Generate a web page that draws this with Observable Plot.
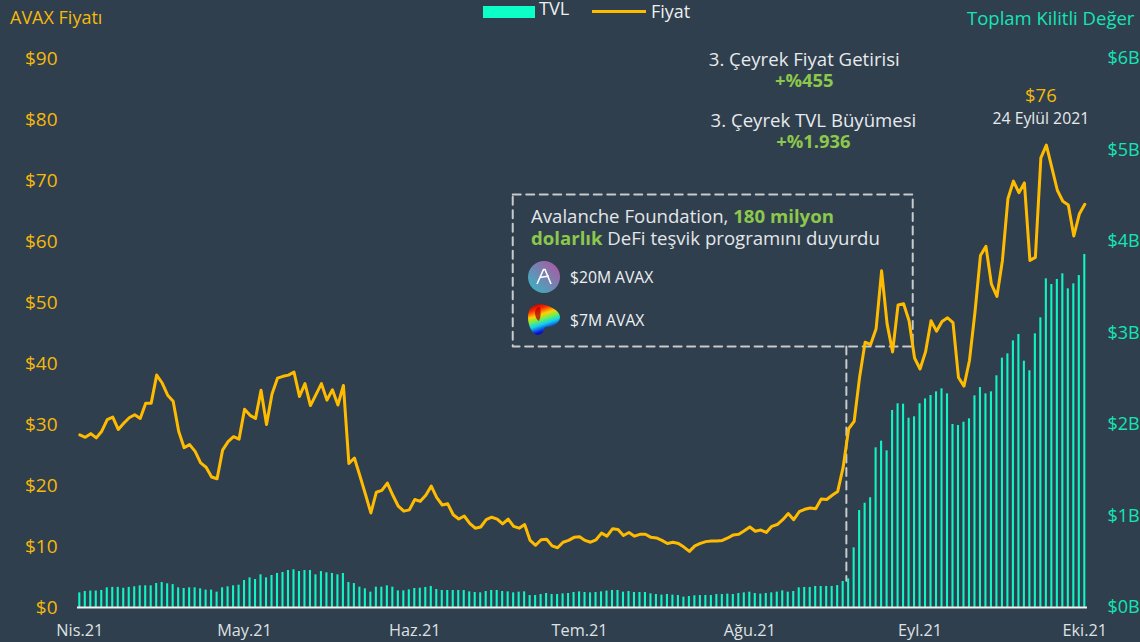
<!DOCTYPE html>
<html lang="tr">
<head>
<meta charset="utf-8">
<script src="https://cdn.jsdelivr.net/npm/d3@7"></script>
<script src="https://cdn.jsdelivr.net/npm/@observablehq/plot@0.6"></script>
<style>
  html, body { margin: 0; padding: 0; background: #2f3f4e; overflow: hidden; }
  #page { position: relative; width: 1140px; height: 642px; font-family: "Open Sans", sans-serif; color: #e8e8e8; }
  #header { height: 30px; position: relative; }
  #header div, #header span.s { position: absolute; white-space: nowrap; }
  #callout { position: absolute; left: 531px; top: 205px; width: 370px; font-size: 18.6px; line-height: 22px; color: #e4e6e8; white-space: nowrap; }
  #callout b { color: #8cc84b; font-weight: 700; }
  .fund { position: absolute; left: 570px; font-size: 15.7px; line-height: 20px; color: #eef0f2; white-space: nowrap; }
  .icon { position: absolute; }
  svg.plot { display: block; }
</style>
</head>
<body>
<div id="page">
  <div id="header">
    <div style="left:10px;top:6px;font-size:18px;line-height:22px;color:#f5b90a">AVAX Fiyatı</div>
    <span class="s" style="left:483px;top:6px;width:52px;height:12px;background:#0dffc8"></span>
    <div style="left:539px;top:0px;font-size:18.2px;line-height:17px;color:#eceeef">TVL</div>
    <span class="s" style="left:592px;top:10px;width:54px;height:3px;background:#ffbb00"></span>
    <div style="left:651px;top:2px;font-size:18px;line-height:18px;color:#eceeef">Fiyat</div>
    <div style="left:967px;top:7px;font-size:18.5px;line-height:22px;color:#14e5b5">Toplam Kilitli Değer</div>
  </div>
  <div id="chart"></div>
  <div id="callout">Avalanche Foundation, <b>180 milyon<br>dolarlık</b> DeFi teşvik programını duyurdu</div>
  <svg class="icon" style="left:528px;top:261px" width="32" height="32" viewBox="0 0 32 32">
    <defs><linearGradient id="aave" x1="0" y1="1" x2="1" y2="0"><stop offset="0" stop-color="#2ebac6"/><stop offset="1" stop-color="#b6509e"/></linearGradient></defs>
    <circle cx="16" cy="16" r="16" fill="url(#aave)"/>
    <path d="M9 23 L15.5 8.5 h1.5 L23 23 M12 16.5 L21 15" fill="none" stroke="#fff" stroke-width="1.6"/>
  </svg>
  <svg class="icon" style="left:527px;top:303px" width="34" height="33" viewBox="0 0 34 33">
    <defs><linearGradient id="curve" x1="0.15" y1="0" x2="0.5" y2="1">
      <stop offset="0" stop-color="#a00000"/><stop offset="0.2" stop-color="#ff2a00"/><stop offset="0.38" stop-color="#ffd000"/>
      <stop offset="0.52" stop-color="#70f050"/><stop offset="0.68" stop-color="#10d0f0"/><stop offset="0.88" stop-color="#1010d0"/><stop offset="1" stop-color="#0808a0"/></linearGradient></defs>
    <path d="M1 14 C1 6 6 1 13 1 C21 2 33 7 33 14 C33 21 24 24 18 24 C17 29 14 32 11 32 C6 32 1 24 1 14 Z" fill="url(#curve)"/>
    <path d="M8 10 C8 6 10 4 13 4 C14 8 14 14 12 18 C10 17 8 14 8 10 Z" fill="#b00000" opacity=".75"/>
  </svg>
  <div class="fund" style="top:267px">$20M AVAX</div>
  <div class="fund" style="top:310px">$7M AVAX</div>
</div>
<script>
const startDay = Date.UTC(2021, 3, 1);
const dayMs = 864e5;

const avaxPrice = [
  28.3,27.9,28.5,27.8,28.9,30.8,31.2,29.2,30.2,31.1,31.6,31.0,33.5,33.5,38.1,36.8,34.8,33.8,28.9,26.2,26.7,25.6,23.7,23.0,21.4,21.1,25.8,27.2,28.0,27.6,
  32.5,31.5,31.0,35.6,30.0,35.0,37.6,37.9,38.1,38.6,34.6,36.7,33.1,34.9,36.7,34.0,35.7,33.2,36.4,23.6,24.5,21.6,18.6,15.5,18.9,19.2,20.4,18.4,16.6,15.8,16.0,
  17.7,17.4,18.4,19.9,18.0,16.8,17.0,15.2,14.5,15.0,13.8,13.0,13.2,14.4,14.8,14.5,13.7,14.5,13.3,13.0,13.6,11.0,10.2,11.1,11.2,10.1,9.8,10.7,11.0,11.5,11.6,
  11.0,10.7,11.1,12.2,11.7,12.9,12.8,11.8,12.3,11.7,12.0,12.0,11.5,11.4,11.0,10.5,10.7,10.5,9.9,9.2,10.1,10.5,10.8,10.9,10.9,11.0,11.4,11.9,12.0,12.6,13.2,
  12.5,12.7,12.3,13.3,13.6,14.4,15.4,14.4,15.7,16.1,16.3,16.2,17.8,17.7,18.4,19.0,23.0,29.3,30.5,37.8,43.5,43.1,45.7,55.2,46.5,41.9,49.6,49.8,47.0,40.9,39.1,
  41.9,47.0,45.3,46.9,47.5,46.7,37.7,36.3,40.5,48.4,57.7,59.2,53.0,51.0,56.9,67.0,69.9,68.0,69.6,56.9,57.4,73.7,75.8,72.1,68.4,66.6,66.0,60.9,64.5,66.1
];
const tvlBillions = [
  .16,.175,.18,.18,.186,.215,.22,.22,.21,.22,.226,.237,.237,.237,.262,.273,.259,.25,.215,.208,.215,.215,.204,.19,.19,.168,.215,.226,.237,.244,
  .295,.324,.306,.357,.324,.35,.372,.383,.404,.412,.393,.404,.404,.357,.393,.379,.372,.357,.372,.273,.262,.222,.204,.168,.222,.222,.237,.222,.182,.182,.193,
  .208,.211,.219,.23,.197,.186,.186,.186,.186,.186,.171,.164,.16,.175,.186,.186,.175,.171,.16,.168,.171,.131,.131,.142,.153,.142,.142,.149,.153,.164,.171,
  .164,.16,.164,.171,.179,.186,.186,.168,.175,.164,.164,.164,.149,.142,.135,.142,.135,.131,.113,.12,.128,.131,.131,.131,.142,.142,.146,.142,.153,.16,.168,
  .153,.146,.153,.16,.168,.182,.168,.175,.215,.219,.219,.23,.23,.23,.23,.24,.284,.313,.652,1.06,1.14,1.2,1.745,1.818,1.712,2.153,2.226,2.222,2.069,2.084,2.226,
  2.28,2.317,2.357,2.39,2.335,2.0,1.989,2.025,2.062,2.313,2.404,2.335,2.357,2.532,2.725,2.772,2.914,2.984,2.692,2.587,2.991,3.166,3.592,3.53,3.585,3.647,3.483,3.537,3.628,3.858
];
const monthTicks = ["2021-04-01","2021-05-01","2021-06-01","2021-07-01","2021-08-01","2021-09-01","2021-10-01"];
const monthLabels = ["Nis.21","May.21","Haz.21","Tem.21","Ağu.21","Eyl.21","Eki.21"];
const priceTicks = [0,10,20,30,40,50,60,70,80,90];
const tvlTicks = [0,1,2,3,4,5,6];
const axisRatio = 15; // one billion of TVL shares the height of $15 of price

const series = avaxPrice.map((price, i) => ({
  date: new Date(startDay + i * dayMs),
  price,
  tvl: tvlBillions[i]
}));

const calloutBox = [
  {x: "2021-06-18T20:00Z", y: 67.7},
  {x: "2021-08-30T16:00Z", y: 67.7},
  {x: "2021-08-30T16:00Z", y: 42.8},
  {x: "2021-06-18T20:00Z", y: 42.8},
  {x: "2021-06-18T20:00Z", y: 67.7}
];
const eventLine = [
  {x: "2021-08-18T14:00Z", y: 42.8},
  {x: "2021-08-18T14:00Z", y: 4.4}
];
const notes = [
  {x: "2021-08-10T22:00Z", y: 89.8, text: "3. Çeyrek Fiyat Getirisi", fill: "#e8eaec", weight: 400},
  {x: "2021-08-10T22:00Z", y: 86.3, text: "+%455", fill: "#8cc84b", weight: 700},
  {x: "2021-08-12T14:00Z", y: 79.8, text: "3. Çeyrek TVL Büyümesi", fill: "#e8eaec", weight: 400},
  {x: "2021-08-12T14:00Z", y: 76.3, text: "+%1.936", fill: "#8cc84b", weight: 700}
];
const peakNote = [{x: "2021-09-23T00:00Z", y: 83.85, text: "$76"}];
const peakDate = [{x: "2021-09-23T00:00Z", y: 80.05, text: "24 Eylül 2021"}];

const pd = s => new Date(s);

const chart = Plot.plot({
  width: 1140,
  height: 612,
  marginTop: 28,
  marginBottom: 35,
  marginLeft: 77,
  marginRight: 53,
  style: {background: "transparent", fontFamily: '"Open Sans", sans-serif', fontSize: "17px", overflow: "visible"},
  x: {type: "utc", domain: [new Date(startDay), new Date(startDay + 183 * dayMs)], range: [79.3, 1084.3]},
  y: {domain: [0, 90], range: [577, 28]},
  marks: [
    Plot.line(calloutBox, {x: d => pd(d.x), y: "y", stroke: "#c8cacc", strokeWidth: 2, strokeDasharray: "8,5.5"}),
    Plot.line(eventLine, {x: d => pd(d.x), y: "y", stroke: "#c8cacc", strokeWidth: 2, strokeDasharray: "8,5.5"}),
    Plot.rectY(series, {
      x1: d => new Date(+d.date - dayMs / 2),
      x2: d => new Date(+d.date + dayMs / 2),
      y1: 0,
      y2: d => d.tvl * axisRatio,
      fill: "#0ff5c5",
      insetLeft: 1.7,
      insetRight: 1.7
    }),
    Plot.ruleY([0], {stroke: "#f0f0f0", strokeWidth: 2}),
    Plot.line(series, {x: "date", y: "price", stroke: "#ffbb00", strokeWidth: 3, curve: "linear"}),
    Plot.axisY({anchor: "left", ticks: priceTicks, tickFormat: d => `$${d}`, tickSize: 0, tickPadding: 20, color: "#f5b90a", label: null, fontSize: 19}),
    Plot.axisY({anchor: "right", ticks: tvlTicks.map(d => d * axisRatio), tickFormat: d => `$${d / axisRatio}B`, tickSize: 0, tickPadding: 20, color: "#14e5b5", label: null, fontSize: 18}),
    Plot.axisX({ticks: monthTicks.map(pd), tickFormat: d => monthLabels[monthTicks.indexOf(d.toISOString().slice(0, 10))], tickSize: 0, tickPadding: 17, color: "#dfe1e3", label: null, fontSize: 16.3}),
    Plot.text(notes.filter(d => d.weight === 400), {x: d => pd(d.x), y: "y", text: "text", fill: "fill", fontSize: 18.6}),
    Plot.text(notes.filter(d => d.weight === 700), {x: d => pd(d.x), y: "y", text: "text", fill: "fill", fontSize: 18.4, fontWeight: 700}),
    Plot.text(peakNote, {x: d => pd(d.x), y: "y", text: "text", fill: "#f5b90a", fontSize: 18.4}),
    Plot.text(peakDate, {x: d => pd(d.x), y: "y", text: "text", fill: "#e8eaec", fontSize: 15.8})
  ]
});
document.getElementById("chart").append(chart);
</script>
</body>
</html>
